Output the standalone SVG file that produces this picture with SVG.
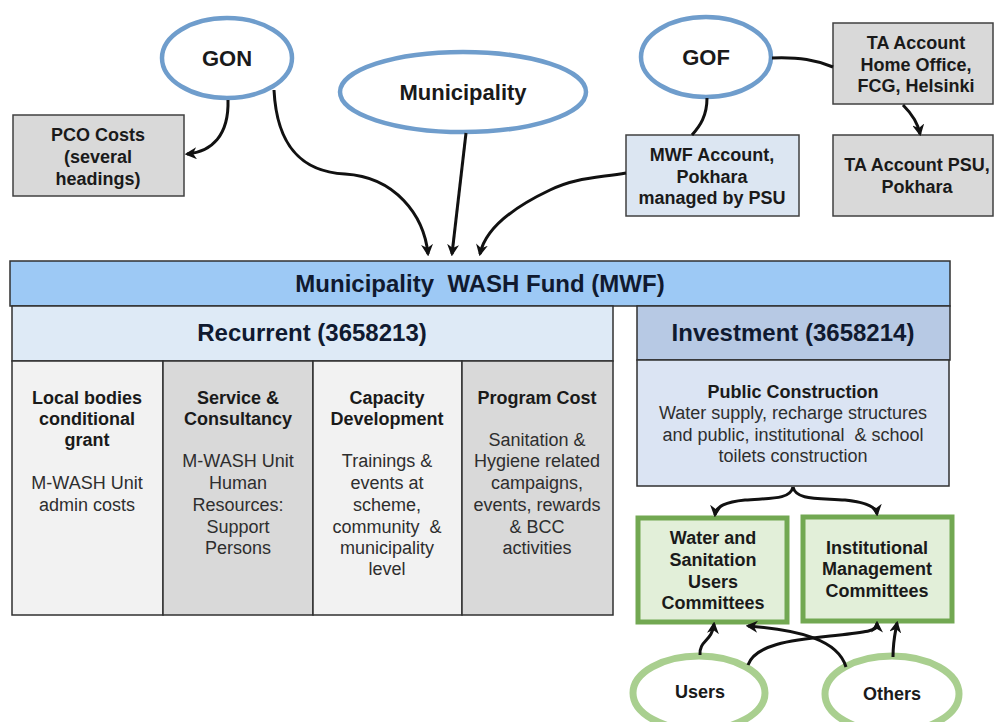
<svg xmlns="http://www.w3.org/2000/svg" width="994" height="722" viewBox="0 0 994 722">
  <style>
    text { font-family: "Liberation Sans", Arial, sans-serif; text-anchor: middle; }
    .b18 { font-size: 18px; font-weight: bold; fill: #1a1a1a; }
    .r18 { font-size: 18px; fill: #2e2e2e; }
    .h24 { font-size: 24px; font-weight: bold; fill: #101a30; }
    .e22 { font-size: 22px; font-weight: bold; fill: #1a1a1a; }
    .src { fill: #ffffff; stroke: #6f9dcc; stroke-width: 4.5; }
    .grn { fill: #ffffff; stroke: #a9cf8f; stroke-width: 7; }
    .gray { fill: #d9d9d9; stroke: #404040; stroke-width: 1.5; }
    .cell { stroke: #303030; stroke-width: 1.5; }
    .cmt { fill: #e2efd9; stroke: #72a852; stroke-width: 5; }
    .edge { fill: none; stroke: #111111; stroke-width: 3; }
    .arr { marker-end: url(#head); }
  </style>
  <defs>
    <marker id="head" viewBox="0 0 10 10" refX="8" refY="5" markerWidth="4" markerHeight="4" orient="auto" markerUnits="strokeWidth">
      <path d="M0,0 L10,5 L0,10 L3,5 z" fill="#111111"/>
    </marker>
  </defs>

  <!-- funding sources -->
  <g id="gon">
    <ellipse class="src" cx="227" cy="58" rx="65" ry="40"/>
    <text class="e22" x="227" y="66">GON</text>
  </g>
  <g id="municipality">
    <ellipse class="src" cx="463" cy="92" rx="123" ry="40"/>
    <text class="e22" x="463" y="100">Municipality</text>
  </g>
  <g id="gof">
    <ellipse class="src" cx="706" cy="57" rx="65" ry="40"/>
    <text class="e22" x="706" y="65">GOF</text>
  </g>

  <!-- accounts -->
  <g id="pco-costs">
    <rect class="gray" x="13" y="115" width="171" height="81"/>
    <text class="b18" x="98" y="141">PCO Costs</text>
    <text class="b18" x="98" y="163">(several</text>
    <text class="b18" x="98" y="185">headings)</text>
  </g>
  <g id="mwf-account">
    <rect x="626" y="135" width="173" height="81" fill="#dce6f2" stroke="#404040" stroke-width="1.5"/>
    <text class="b18" x="712" y="161">MWF Account,</text>
    <text class="b18" x="712" y="183">Pokhara</text>
    <text class="b18" x="712" y="204">managed by PSU</text>
  </g>
  <g id="ta-home-office">
    <rect class="gray" x="833" y="23" width="160" height="81"/>
    <text class="b18" x="916" y="49">TA Account</text>
    <text class="b18" x="916" y="71">Home Office,</text>
    <text class="b18" x="916" y="92">FCG, Helsinki</text>
  </g>
  <g id="ta-psu">
    <rect class="gray" x="833" y="135" width="160" height="81"/>
    <text class="b18" x="917" y="171">TA Account PSU,</text>
    <text class="b18" x="917" y="193">Pokhara</text>
  </g>

  <!-- fund table -->
  <g id="mwf">
    <rect class="cell" x="10" y="261" width="940" height="45" fill="#9dc9f5"/>
    <text class="h24" x="480" y="292" xml:space="preserve">Municipality  WASH Fund (MWF)</text>
  </g>
  <g id="recurrent">
    <rect class="cell" x="12" y="306" width="601" height="55" fill="#deeaf6"/>
    <text class="h24" x="312" y="341">Recurrent (3658213)</text>
  </g>
  <g id="local-bodies">
    <rect class="cell" x="12" y="361" width="151" height="254" fill="#f2f2f2"/>
    <text class="b18" x="87" y="404">Local bodies</text>
    <text class="b18" x="87" y="425">conditional</text>
    <text class="b18" x="87" y="446">grant</text>
    <text class="r18" x="87" y="489">M-WASH Unit</text>
    <text class="r18" x="87" y="511">admin costs</text>
  </g>
  <g id="service-consultancy">
    <rect class="cell" x="163" y="361" width="150" height="254" fill="#d9d9d9"/>
    <text class="b18" x="238" y="404">Service &amp;</text>
    <text class="b18" x="238" y="425">Consultancy</text>
    <text class="r18" x="238" y="467">M-WASH Unit</text>
    <text class="r18" x="238" y="489">Human</text>
    <text class="r18" x="238" y="511">Resources:</text>
    <text class="r18" x="238" y="533">Support</text>
    <text class="r18" x="238" y="554">Persons</text>
  </g>
  <g id="capacity-development">
    <rect class="cell" x="313" y="361" width="149" height="254" fill="#f2f2f2"/>
    <text class="b18" x="387" y="404">Capacity</text>
    <text class="b18" x="387" y="425">Development</text>
    <text class="r18" x="387" y="467">Trainings &amp;</text>
    <text class="r18" x="387" y="489">events at</text>
    <text class="r18" x="387" y="511">scheme,</text>
    <text class="r18" x="387" y="533" xml:space="preserve">community  &amp;</text>
    <text class="r18" x="387" y="554">municipality</text>
    <text class="r18" x="387" y="575">level</text>
  </g>
  <g id="program-cost">
    <rect class="cell" x="462" y="361" width="151" height="254" fill="#d9d9d9"/>
    <text class="b18" x="537" y="404">Program Cost</text>
    <text class="r18" x="537" y="446">Sanitation &amp;</text>
    <text class="r18" x="537" y="467">Hygiene related</text>
    <text class="r18" x="537" y="489">campaigns,</text>
    <text class="r18" x="537" y="511">events, rewards</text>
    <text class="r18" x="537" y="533">&amp; BCC</text>
    <text class="r18" x="537" y="554">activities</text>
  </g>
  <g id="investment">
    <rect class="cell" x="637" y="306" width="313" height="54" fill="#b7c9e4"/>
    <text class="h24" x="793" y="341">Investment (3658214)</text>
  </g>
  <g id="public-construction">
    <rect class="cell" x="637" y="360" width="312" height="126" fill="#dbe4f3"/>
    <text class="b18" x="793" y="398">Public Construction</text>
    <text class="r18" x="793" y="419">Water supply, recharge structures</text>
    <text class="r18" x="793" y="441" xml:space="preserve">and public, institutional  &amp; school</text>
    <text class="r18" x="793" y="462">toilets construction</text>
  </g>

  <!-- committees -->
  <g id="wsuc">
    <rect class="cmt" x="638" y="518" width="149" height="104"/>
    <text class="b18" x="713" y="544">Water and</text>
    <text class="b18" x="713" y="566">Sanitation</text>
    <text class="b18" x="713" y="588">Users</text>
    <text class="b18" x="713" y="609">Committees</text>
  </g>
  <g id="imc">
    <rect class="cmt" x="803" y="517" width="149" height="104"/>
    <text class="b18" x="877" y="554">Institutional</text>
    <text class="b18" x="877" y="575">Management</text>
    <text class="b18" x="877" y="597">Committees</text>
  </g>

  <!-- community -->
  <g id="users">
    <ellipse class="grn" cx="699" cy="693" rx="66" ry="37"/>
    <text class="b18" x="700" y="698">Users</text>
  </g>
  <g id="others">
    <ellipse class="grn" cx="892" cy="694" rx="67" ry="38"/>
    <text class="b18" x="892" y="700">Others</text>
  </g>

  <!-- connectors -->
  <g id="connectors">
    <path class="edge arr" d="M228,100 C229,135 212,152 187,154"/>
    <path class="edge arr" d="M274,90 C277,150 305,172 345,174 C395,177 424,215 428,254"/>
    <path class="edge arr" d="M466,133 L452,254"/>
    <path class="edge arr" d="M626,173 C596,178 574,178 550,190 C512,208 485,230 480,254"/>
    <path class="edge" d="M772,58 C800,57 816,60 833,67"/>
    <path class="edge arr" d="M903,105 C911,113 918,123 920,134"/>
    <path class="edge" d="M707,98 C707,116 700,126 692,135"/>
    <path class="edge arr" d="M793,487 C790,500 770,498 745,500 C726,502 716,506 715,515"/>
    <path class="edge arr" d="M793,487 C796,500 816,498 845,500 C864,502 876,506 877,514"/>
    <path class="edge arr" d="M700,655 C699,640 712,642 714,624"/>
    <path class="edge arr" d="M748,665 C755,645 790,640 830,636 C865,632 877,632 877,623"/>
    <path class="edge arr" d="M846,667 C838,640 800,630 748,626"/>
    <path class="edge arr" d="M893,657 C893,641 895,634 897,623"/>
  </g>
</svg>
